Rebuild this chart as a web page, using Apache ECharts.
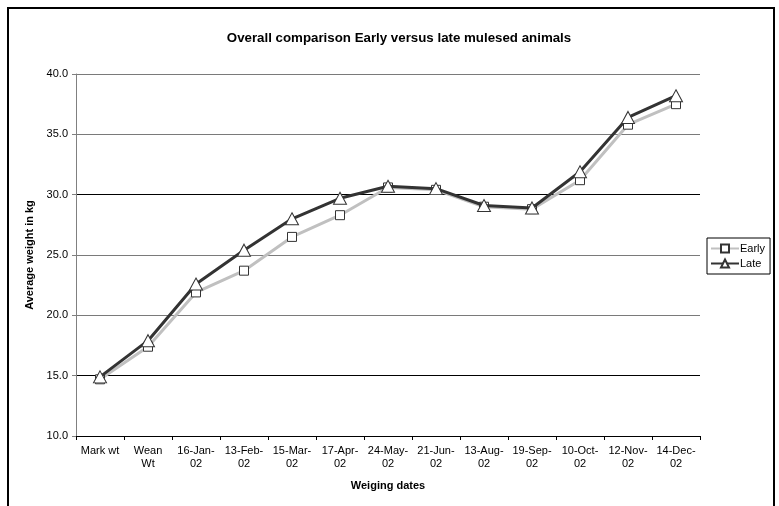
<!DOCTYPE html>
<html>
<head>
<meta charset="utf-8">
<script src="https://cdn.jsdelivr.net/npm/echarts@6/dist/echarts.min.js"></script>
<style>
  html, body { margin: 0; padding: 0; background: #fff; }
  #chart { width: 779px; height: 506px; }
</style>
</head>
<body>
<div id="chart"></div>
<script>
// Weighing dates (x categories)
const dates = ['Mark wt', 'Wean\nWt', '16-Jan-\n02', '13-Feb-\n02', '15-Mar-\n02', '17-Apr-\n02',
  '24-May-\n02', '21-Jun-\n02', '13-Aug-\n02', '19-Sep-\n02', '10-Oct-\n02', '12-Nov-\n02', '14-Dec-\n02'];

// Average weight (kg) per group
const early = [14.7, 17.4, 21.9, 23.7, 26.5, 28.3, 30.6, 30.4, 29.0, 28.8, 31.2, 35.8, 37.5];
const late  = [14.9, 17.9, 22.6, 25.4, 28.0, 29.7, 30.7, 30.5, 29.1, 28.9, 31.9, 36.4, 38.2];

const FONT = 'Liberation Sans, Arial, sans-serif';

const chart = echarts.init(document.getElementById('chart'), null, { renderer: 'canvas' });

chart.setOption({
  animation: false,
  backgroundColor: '#fff',
  textStyle: { fontFamily: FONT },
  title: {
    text: 'Overall comparison Early versus late mulesed animals',
    left: 394,
    textAlign: 'center',
    top: 27,
    textStyle: { fontFamily: FONT, fontSize: 13.3, fontWeight: 'bold', color: '#000' }
  },
  graphic: [{
    type: 'rect',
    shape: { x: 8, y: 8, width: 766, height: 520 },
    style: { fill: 'none', stroke: '#000', lineWidth: 2 },
    silent: true,
    z: 100
  }],
  legend: {
    orient: 'vertical',
    left: 707,
    top: 238,
    width: 64,
    padding: [5, 5, 5, 3],
    itemGap: 4,
    itemWidth: 28,
    itemHeight: 10,
    backgroundColor: '#fff',
    borderColor: '#000',
    borderWidth: 1,
    textStyle: { fontFamily: FONT, fontSize: 11, color: '#000', padding: [0, 0, 0, -4] },
    data: ['Early', 'Late']
  },
  grid: { left: 76, top: 74, width: 624, height: 362, containLabel: false },
  xAxis: {
    type: 'category',
    data: dates,
    boundaryGap: true,
    name: 'Weiging dates',
    nameLocation: 'middle',
    nameGap: 44,
    nameTextStyle: { fontFamily: FONT, fontSize: 11, fontWeight: 'bold', color: '#000' },
    axisLine: { lineStyle: { color: '#000', width: 1 } },
    axisTick: { show: true, length: 4, lineStyle: { color: '#000' } },
    axisLabel: {
      interval: 0,
      margin: 8,
      fontFamily: FONT,
      fontSize: 11,
      lineHeight: 13,
      color: '#000'
    },
    splitLine: { show: false }
  },
  yAxis: {
    type: 'value',
    min: 10,
    max: 40,
    interval: 5,
    name: 'Average weight in kg',
    nameLocation: 'middle',
    nameGap: 35,
    nameRotate: 90,
    nameTextStyle: { fontFamily: FONT, fontSize: 11, fontWeight: 'bold', color: '#000' },
    axisLine: { show: true, lineStyle: { color: '#808080', width: 1 } },
    axisTick: { show: true, length: 4, lineStyle: { color: '#808080' } },
    axisLabel: {
      margin: 8,
      fontFamily: FONT,
      fontSize: 11,
      color: '#000',
      formatter: v => v.toFixed(1)
    },
    splitLine: { show: true, lineStyle: { color: ['#7a7a7a', '#000', '#7a7a7a'], width: 1 } }
  },
  series: [
    {
      name: 'Early',
      type: 'line',
      data: early,
      symbol: 'rect',
      symbolSize: 9,
      lineStyle: { color: '#c0c0c0', width: 3 },
      itemStyle: { color: '#fff', borderColor: '#333', borderWidth: 1 },
      z: 2
    },
    {
      name: 'Late',
      type: 'line',
      data: late,
      symbol: 'triangle',
      symbolSize: [13, 12],
      lineStyle: { color: '#333', width: 3 },
      itemStyle: { color: '#fff', borderColor: '#333', borderWidth: 1 },
      z: 3
    }
  ]
});
</script>
</body>
</html>
